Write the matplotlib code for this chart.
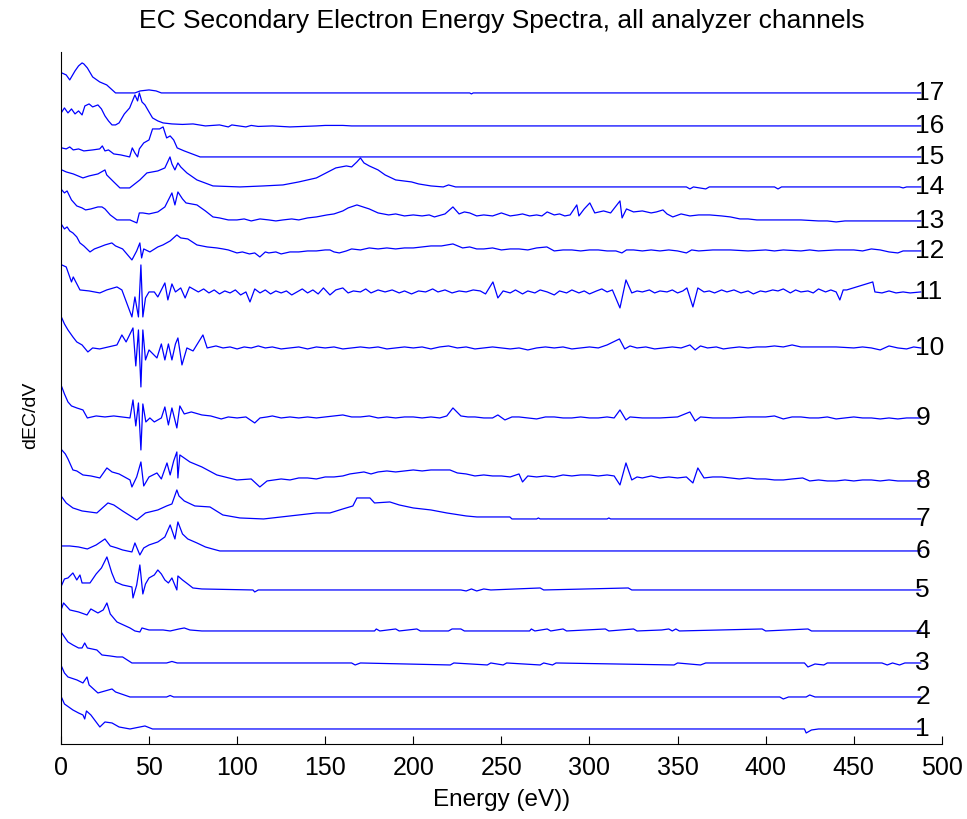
import matplotlib
matplotlib.use("Agg")
import numpy as np
import matplotlib.pyplot as plt

# energy grid points (eV) and dEC/dV signal for each analyzer channel,
# signal in arbitrary units relative to the channel's own baseline
ch1 = [(0.5, 31), (2, 25), (6.8, 19), (10, 16), (12.5, 14), (13.5, 10), (14.5, 18), (17, 14),
       (22.1, 2), (25, 7), (29, 6), (33, 2), (39.2, 0), (47.7, 3), (52, 0), (58, 0),
       (422, 0), (423, -4), (426, -1), (430, 0), (488, 0)]
ch2 = [(0.5, 30), (2, 24), (4, 20), (9.1, 17), (12.5, 14), (14.8, 20), (16, 12), (21, 4),
       (29, 8), (31, 5), (39.2, 0), (60, 0), (62, 1.5), (64, 0), (408, 0), (410, -2),
       (413, 0), (423, 0), (425, 2), (428, 0), (488, 0)]
ch3 = [(0.5, 30), (2, 26), (4, 21), (6.8, 18), (10, 15), (12, 15), (13.5, 20), (15, 15),
       (20.4, 13), (23.3, 8), (28, 7), (31.8, 6), (35, 6), (40.3, 0), (60, 0), (63, 1.5),
       (66, 0), (165, 0), (167, -2), (170, 0), (221, -2), (223, 0), (242, -2), (244, 0),
       (251, -2), (253, 0), (272, -2), (274, 0), (279, -2), (281, 0), (348, -2), (350, 0),
       (363, -2), (366, 0), (422, 0), (424, -4), (428, -1), (433, -2), (435, 0), (466, 0),
       (469, -2), (472, 0), (476, -2), (479, 0), (488, 0)]
ch4 = [(0.5, 23), (1.5, 28), (5.1, 21), (10, 19), (14.8, 16), (17, 22), (21, 18), (24, 21),
       (26.1, 28), (28, 17), (31.8, 9), (39.2, 3), (42, 0), (44.8, -1), (46, 3), (50, 1),
       (58, 1), (62, 0), (67, 2), (70, 3), (73.2, 1), (80, 0), (178, 0), (179, 2), (181, 0),
       (190, 2), (192, 0), (202, 2), (204, 0), (220, 0), (222, 2), (227, 2), (229, 0),
       (266, 0), (267, 2), (269, 0), (276, 2), (278, 0), (285, 2), (287, 0), (309, 2),
       (311, 0), (325, 2), (327, 0), (341, 1), (345, 2), (347, 0), (349, 2), (351, 0),
       (398, 2), (400, 0), (424, 2), (426, 0), (488, 0)]
ch5 = [(0.5, 5), (2, 11), (4, 12), (6.8, 17), (9, 10), (10.8, 15), (12, 7), (16.5, 7),
       (20, 16), (23, 22), (26.1, 33), (28.9, 17), (31, 8), (35, 5), (40.3, 3), (40.9, -8),
       (43, 5), (44.8, 25), (46.5, -4), (48, 6), (50, 12), (53, 15), (55, 20), (57, 16),
       (59, 10), (61, 7), (63, 12), (65.8, 0), (66.4, 14), (69, 10), (72, 6), (74.9, 2),
       (80, 1), (109, 0), (110, -2), (112, 0), (227, 0), (230, -1), (233, 1), (236, -1),
       (240, 1), (244, 0), (272, 2), (274, 0), (322, 2), (324, 0), (488, 0)]
ch6 = [(0.5, 5), (5, 5), (10, 4), (15, 2), (20, 6), (25, 12), (28, 5), (31.8, 3), (35, 1),
       (40.3, -1), (42, 8), (44.8, -4), (47, 3), (50, 6), (55, 9), (59, 14), (62, 26),
       (64.7, 12), (66.4, 29), (69, 17), (72, 12), (77.2, 8), (82, 4), (86, 2), (90.2, 0),
       (488, 0)]
ch7 = [(0.5, 22), (3, 16), (6.8, 11), (12, 8), (20.4, 6), (26.7, 16), (30, 14), (35, 8),
       (43.1, -1), (48, 6), (55, 9), (60, 13), (63, 15), (65.8, 29), (67, 23), (70, 18),
       (76, 13), (84.6, 12), (91.9, 4), (101.6, 1), (115, 0), (130, 3), (145, 6),
       (152.7, 6), (160, 10), (165.7, 13), (168, 21), (175.4, 21), (178, 16), (186.7, 17),
       (192, 14), (200, 11), (210, 9), (219, 6), (230, 3), (236.1, 2), (254.8, 2),
       (256, 0), (270, 0), (271, 1), (272, 0), (310, 0), (311, 1), (312, 0), (488, 0)]
ch8 = [(0.5, 31), (2.5, 27), (4, 22), (6.8, 11), (9, 10), (12.5, 6), (17, 5), (22.1, 3),
       (26.1, 13), (29, 9), (33, 7), (39.2, 1), (40.3, -6), (43, 4), (45.4, 19), (47, -5),
       (50, 4), (54.5, 8), (57, 2), (60.2, 18), (62, 6), (64, 20), (65.8, 29), (66.4, 3),
       (67.5, 26), (73.2, 19), (80, 14), (88.5, 6), (99.9, 1), (108, 2), (112.9, -6),
       (117, 0), (121, 1), (125, 2), (130, 1), (135, 3), (140, 3), (145, 2), (150, 4),
       (155, 4), (160, 5), (164, 7), (168, 8), (172, 9), (176, 7), (180, 9), (185, 10),
       (190, 9), (195, 10), (200, 11), (205, 10), (210, 11), (215, 11), (220.8, 11),
       (225, 8), (230, 7), (235, 5), (240, 6), (245, 5), (250, 5), (255, 4), (260, 7),
       (262, -1), (265, 5), (270, 4), (275, 5), (280, 4), (285, 6), (290, 5), (295, 6),
       (300, 6), (305, 5), (310, 6), (314, 5), (317.3, -4), (320.7, 18), (324, 1),
       (327, 4), (330, 3), (335, 5), (340, 3), (345, 4), (350, 3), (355, 4), (358.7, -2),
       (361.5, 13), (365, 3), (370, 4), (375, 4), (380, 3), (385, 2), (390, 3), (395, 2),
       (400, 2), (405, 1), (410, 1), (415, 2), (421, 3), (425, 0), (430, 1), (435, 0),
       (440, 0), (445, 1), (450, 0), (455, 1), (460, 1), (465, 0), (470, 1), (475, 0),
       (480, 0), (488, 0)]
ch9 = [(0.5, 31), (2, 24), (4, 16), (6, 12), (9, 10), (12.5, 8), (15, 0), (20, 2), (25, 1),
       (30, 2), (39.2, 0), (40.9, 18), (42.5, -8), (44, 15), (45.4, -32), (46.5, 14),
       (48.2, -4), (50.5, 0), (53, -4), (57, 0), (59, 11), (61, -7), (63, 10),
       (65.8, -10), (67.5, 12), (70, 4), (74, 6), (80, 3), (85, 2), (91, -1), (95, 1),
       (100, 0), (105, 1), (110, -5), (113, 0), (117, 1), (120, 2), (125, 0), (130, 1),
       (135, 0), (140, 1), (145, 0), (150, 1), (155, 2), (160, 3), (165, 1), (170, 1),
       (175, 2), (180, 0), (185, 1), (190, 0), (195, 1), (200, 1), (205, 0), (210, 1),
       (215, 0), (219, 2), (222.5, 10), (227, 2), (231, 1), (235, 1), (240, 0), (245, 0),
       (248, 3), (252, -2), (256, 1), (260, 1), (265, 0), (270, -1), (275, 1), (280, 1),
       (285, 0), (290, 0), (295, 1), (300, 0), (305, 0), (310, 1), (314, 0), (317.3, 8),
       (320.7, -2), (323, 1), (330, 0), (340, 0), (350, 1), (357, 6), (360, -3), (363, 1),
       (370, 0), (380, 0), (390, 1), (400, 1), (405, 2), (410, -1), (415, 1), (420, 1),
       (425, 0), (430, 0), (435, 1), (440, -1), (445, 0), (450, 1), (455, 0), (460, 0),
       (465, -1), (470, 0), (475, -1), (480, 0), (488, 0)]
ch10 = [(0.5, 30), (2, 24), (4, 18), (6.8, 11), (9, 6), (12, 3), (15.3, -4), (18, 0),
        (22, -1), (31.8, 3), (34.6, 13), (37, 6), (40.9, 20), (42.5, -18), (44, 18),
        (45.4, -39), (46.5, 18), (48, -12), (50, -2), (54.5, -10), (57, 4), (59, -12),
        (61, 4), (63, -12), (65, 4), (66.4, 10), (68.7, -17), (71.5, 0), (75, -3),
        (80.6, 13), (83, 0), (88, 2), (92, 0), (96, 1), (100, -1), (104, 1), (108, 0),
        (112, 2), (116, 0), (120, 1), (125, -1), (130, 0), (135, 1), (140, -1), (145, 1),
        (150, 0), (155, 1), (160, -1), (165, 0), (170, 1), (175, 0), (180, 1), (185, -1),
        (190, 0), (195, 1), (200, 0), (205, 1), (210, -1), (215, 1), (220, 2), (225, 0),
        (230, 1), (235, -1), (240, 0), (245, 1), (250, 0), (255, -1), (260, 0), (265, -2),
        (270, 0), (275, 1), (280, 0), (285, 1), (290, -1), (295, 0), (300, 1), (305, 0),
        (310, 3), (317, 9), (320, -1), (323, 2), (327, 0), (332, 1), (337, -1), (342, 0),
        (347, 1), (352, 0), (357, 3), (360, -2), (363, 2), (367, 0), (372, 1), (376, -1),
        (380, 0), (385, 1), (390, 0), (395, 1), (400, 1), (405, 2), (410, 1), (415, 3),
        (420, 1), (430, 1), (440, 1), (450, 0), (455, 1), (460, 0), (465, -2), (470, 2),
        (475, 0), (480, -1), (484, 1), (488, 0)]
ch11 = [(0.5, 27), (3, 25), (6, 10), (7, 15), (10.8, 2), (16, 1), (22.1, -1), (26, 2),
        (31.8, 5), (34.6, 2), (40.3, -25), (42, -5), (44, -25), (45.4, 27), (46.5, -25),
        (48, -6), (50, 0), (53, 0), (55, -5), (59, 9), (60.7, -8), (63, 8), (65, 0),
        (68, 4), (70.5, -6), (73, 5), (78, 0), (81, 3), (84, -1), (87, 2), (90, -2),
        (93, 1), (96, -1), (99, 2), (102, -3), (105, 0), (107.3, -10), (110, 3),
        (113, -1), (116, 2), (119, -2), (122, 1), (125, -1), (128, 1), (131, -3), (134, 0),
        (137, 3), (140, -1), (143, 2), (146, -2), (149, 4), (152.7, -3), (156, 2),
        (160, 4), (163, -1), (166, 1), (170, 0), (173, 3), (176, -1), (180, 2), (184, 0),
        (188, 2), (192, -1), (195, 1), (199, -2), (203, 1), (207, 0), (211, 3), (214, 0),
        (218, 2), (222, -1), (226, 1), (230, 0), (234, 2), (238, 1), (241, -2),
        (245.2, 10), (248, -6), (251, 1), (255, -1), (258, 2), (262, -2), (265, 1),
        (269, -1), (272, 2), (276, 0), (280, -3), (283, 1), (287, -1), (290, 2), (294, -1),
        (297, 1), (300, -2), (304, 1), (307, 3), (310, 0), (313, 2), (317.3, -16),
        (320.7, 12), (324, -1), (327, 1), (330, 0), (334, 2), (337, -1), (340, 1), (344, 0),
        (347, 2), (350, -1), (353, 1), (355.3, 4), (358.7, -15), (361.5, 4), (365, 0),
        (368, 1), (371, -1), (375, 2), (378, 0), (382, 2), (386, -1), (390, 1), (393, -2),
        (397, 1), (400, 0), (404, 2), (407, 1), (410, 3), (414, -1), (417, 2), (420, 0),
        (424, 1), (427, -1), (430, 3), (434, 0), (437, 2), (440, 0), (442.1, -8),
        (444, 2), (446, 2), (460.8, 10), (462, 0), (466, -1), (470, 1), (474, -1),
        (478, 0), (482, -1), (488, 0)]
ch12 = [(0.5, 26), (2, 22), (3.5, 24), (5, 20), (6.8, 18), (9, 14), (10.8, 8), (13, 5),
        (16.5, -1), (19, 2), (22.1, 4), (25, 6), (28.9, 8), (31, 5), (35, 2), (40.3, -9),
        (43, 0), (44.8, 8), (45.8, -7), (47, 2), (50.5, -1), (55, 4), (57.9, 6), (62, 10),
        (65.8, 16), (68, 13), (72, 12), (77.2, 6), (83, 4), (88.5, 3), (92, 2), (95, 1),
        (99.9, -2), (103, -1), (107, -3), (110, -2), (112.9, -6), (116, -1), (118, -2),
        (122, -1), (125, -3), (130, -1), (135, -1), (140, 0), (145, 0), (150, 1),
        (152.7, 1), (155, -1), (158, -2), (162, 0), (165, 2), (170, 1), (175, 3), (180, 2),
        (185, 3), (190, 2), (195, 3), (200, 3), (205, 4), (210, 5), (216, 5), (222.5, 7),
        (228, 3), (232, 4), (236, 2), (240, 2), (245, 3), (250, 1), (255, 2), (260, 2),
        (265, 1), (270, 3), (275.8, 4), (280, 0), (285, 1), (290, 1), (295, 0), (300, 1),
        (305, 1), (310, 0), (315, 0), (318.4, -2), (321, 1), (325, 1), (330, 0), (335, 1),
        (340, 0), (345, 1), (350, 0), (355, -2), (358, 1), (362, 0), (370, 1), (380, 1),
        (390, 0), (400, 1), (405, 0), (410, 1), (420, 0), (425, 1), (430, 0), (440, 1),
        (450, 1), (455, 0), (460, 2), (465, 1), (470, -1), (475, -2), (478, 0), (482, 0),
        (488, 0)]
ch13 = [(0.5, 31), (2, 28), (3.5, 30), (6, 21), (9, 15), (12, 13), (14, 11), (17, 12),
        (21, 14), (23.3, 14), (25, 12), (28, 6), (31.8, 1), (39.2, 1), (43.1, -2),
        (44.5, 8), (46.5, 8), (50, 7), (55, 9), (59, 14), (63, 28), (64.7, 16),
        (66.4, 29), (69, 22), (71, 18), (77.2, 16), (82, 10), (86.3, 4), (90, 3), (95, 1),
        (99.9, 1), (104, 2), (108, 0), (113, 2), (118, 1), (122, 0), (126, 1), (131, 2),
        (135, 1), (140, 3), (145, 4), (151, 6), (155, 7), (160, 10), (163, 13), (168, 16),
        (175, 12), (180, 8), (186, 6), (190, 7), (195, 5), (200, 6), (205, 5), (209, 6),
        (212, 4), (218, 7), (222.5, 14), (226, 7), (229, 9), (232, 8), (236, 5), (240, 6),
        (245, 5), (250, 8), (255, 5), (259, 6), (262, 7), (266, 5), (270, 6), (273, 5),
        (276, 9), (280, 6), (283, 7), (286, 5), (289, 6), (292.8, 16), (294, 5), (297, 12),
        (300.2, 18), (303, 8), (308, 10), (312, 8), (317.3, 20), (318.5, 3), (321, 12),
        (325, 9), (330, 10), (335, 8), (338, 9), (341.7, 11), (344, 7), (347.3, 4),
        (352, 7), (357, 5), (362, 6), (368.3, 6), (375, 5), (380, 4), (385.4, 2),
        (390, 2), (395, 1), (400, 1), (410, 1), (420, 1), (430, 0), (435, 0), (440, -1),
        (445, 0), (460, 0), (488, 0)]
ch14 = [(0.5, 17), (3, 15), (7, 13), (12.5, 9), (16, 11), (21, 13), (25, 17), (26, 12),
        (30, 5), (33.5, -1), (39, -1), (44.8, 7), (48.8, 14), (55, 16), (59, 19),
        (61.9, 30), (63, 23), (64.7, 17), (66.4, 24), (68, 20), (71.5, 14), (77.2, 7),
        (86.3, 1), (101.6, 0), (115, 1), (126, 2), (135, 5), (145, 9), (156, 19),
        (162, 21), (165, 20), (168, 25), (170, 29), (172, 24), (175, 21), (180, 17),
        (184, 12), (190, 7), (199, 5), (203, 3), (210, 1), (217, 0), (220, 2), (224, 0),
        (355, 0), (357, -2), (359, 0), (366, -2), (368, 0), (405, 0), (407, -2),
        (409, 0), (476, 0), (478, -1), (480, 0), (488, 0)]
ch15 = [(0.5, 9), (3, 8), (5, 10), (7, 7), (10, 8), (13, 6), (18, 7), (22, 8), (23.5, 11),
        (25, 6), (27, 7), (30, 3), (34, 2), (39, 0), (40.5, 9), (42, 4), (43.5, 0),
        (44.5, 8), (47, 14), (50, 17), (52, 28), (56, 28), (58, 30), (60, 19), (62, 21),
        (64, 17), (66, 9), (70, 6), (73, 4), (79, 0), (488, 0)]
ch16 = [(0.5, 14), (2, 18), (4, 13), (6, 17), (8, 12), (10, 15), (12, 11), (13.6, 20),
        (16, 22), (18, 19), (21, 21), (23, 17), (25, 10), (27, 5), (29, 1), (31, 1),
        (33, 3), (36, 12), (39, 18), (42, 31), (43.5, 25), (44.5, 33), (46, 24),
        (47.7, 21), (50, 14), (52, 8), (55, 5), (58, 3), (63, 2), (69, 1.5), (75, 2),
        (82, 0), (90, 1), (95, -1), (97, 1), (101, 0), (105, -1), (108, 0.5),
        (112, -0.5), (120, 0), (130, -1), (145, 0), (150, 0.5), (160, 0.5), (165, 0),
        (488, 0)]
ch17 = [(0.5, 20), (3, 18), (5, 13), (8, 22), (10, 27), (12, 30), (13, 29), (15, 25),
        (18, 16), (22, 11), (26, 8), (31, 0), (42, 0), (45, 2), (50, 3), (54, 2), (57, 0),
        (232, 0), (233, -1), (234, 0), (488, 0)]

channels = [ch1, ch2, ch3, ch4, ch5, ch6, ch7, ch8, ch9, ch10, ch11, ch12, ch13, ch14,
            ch15, ch16, ch17]
channel_names = [str(i) for i in range(1, 18)]
# vertical stacking offset of each channel
offsets = [15, 47, 81, 113, 154, 193, 225, 263, 326, 396, 452, 493, 523, 557, 587, 618, 651]

fig = plt.figure(figsize=(9.67, 8.19), dpi=100)
ax = fig.add_axes([0.063, 0.0916, 0.911, 0.845])

font = ['Liberation Sans', 'DejaVu Sans']

for ch, off, name in zip(channels, offsets, channel_names):
    e = np.array([p[0] for p in ch])
    v = np.array([p[1] for p in ch])
    ax.plot(e, v + off, color='#0000ff', lw=0.9)
    ax.text(485, off, name, ha='left', va='center', fontsize=19, family=font)

ax.set_xlim(0, 500)
ax.set_ylim(0, 692)
ax.set_xticks(np.arange(0, 501, 50))
ax.set_yticks([])
ax.tick_params(axis='x', direction='in', length=6, labelsize=18, pad=9)
for lbl in ax.get_xticklabels():
    lbl.set_family(font)
ax.spines['top'].set_visible(False)
ax.spines['right'].set_visible(False)

ax.set_title('EC Secondary Electron Energy Spectra, all analyzer channels',
             fontsize=19, family=font, pad=17)
ax.set_xlabel('Energy (eV))', fontsize=17.5, family=font, labelpad=6)
ax.set_ylabel('dEC/dV', fontsize=14, family=font)
ax.yaxis.set_label_coords(-0.025, 0.475)

fig.savefig('out.png', dpi=100)
